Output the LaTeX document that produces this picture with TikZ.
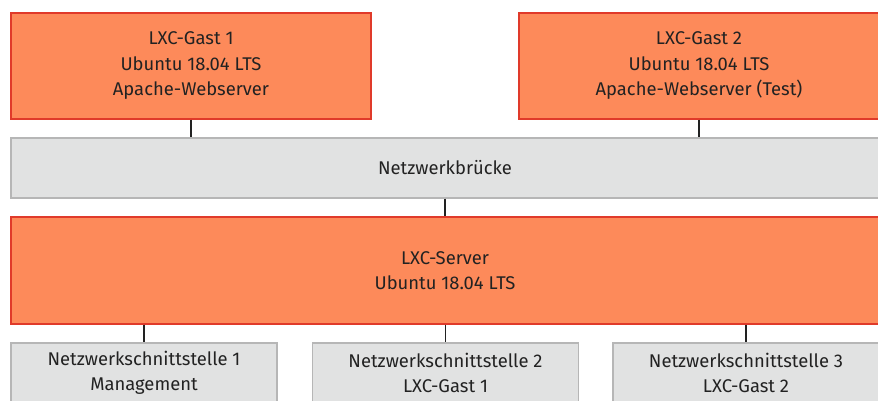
\documentclass[tikz,border=0pt]{standalone}
\usepackage{fontspec}
\setmainfont{Fira Sans}
\usepackage{tikz}

\definecolor{gastorange}{RGB}{253,138,90}
\definecolor{gastrot}{RGB}{224,58,42}
\definecolor{netzgrau}{RGB}{225,226,226}
\definecolor{randgrau}{RGB}{182,182,182}
\definecolor{schrift}{RGB}{34,34,34}

\tikzset{
  box/.style={rectangle, inner sep=0pt, align=center, text=schrift,
    font=\fontsize{18.4}{25.5}\selectfont, line width=1.2pt},
  gast/.style={box, draw=gastrot, fill=gastorange},
  netz/.style={box, draw=randgrau, fill=netzgrau},
  verbinder/.style={draw=schrift, line width=1.3pt}
}

\begin{document}
\begin{tikzpicture}[x=1pt, y=-1pt]
\useasboundingbox (0,0) rectangle (878,401);
\clip (0,0) rectangle (878,401);

% Gaeste
\node[gast, minimum width=360pt, minimum height=106pt] (gast1) at (191,66)
  {LXC-Gast 1\\Ubuntu 18.04 LTS\\Apache-Webserver};
\node[gast, minimum width=360pt, minimum height=106pt] (gast2) at (699,66)
  {LXC-Gast 2\\Ubuntu 18.04 LTS\\Apache-Webserver (Test)};

% Bruecke
\node[netz, minimum width=868pt, minimum height=60pt] (bruecke) at (445,168)
  {Netzwerkbrücke};

% Server
\node[gast, minimum width=868pt, minimum height=107pt] (server) at (445,270.5)
  {LXC-Server\\Ubuntu 18.04 LTS};

% Schnittstellen
\node[netz, minimum width=266pt, minimum height=60pt] (nic1) at (144,373)
  {Netzwerkschnittstelle 1\\Management};
\node[netz, minimum width=266pt, minimum height=60pt] (nic2) at (445.5,373)
  {Netzwerkschnittstelle 2\\LXC-Gast 1};
\node[netz, minimum width=266pt, minimum height=60pt] (nic3) at (746,373)
  {Netzwerkschnittstelle 3\\LXC-Gast 2};

% Verbindungen
\draw[verbinder] (gast1.south) -- (gast1.south |- bruecke.north);
\draw[verbinder] (gast2.south) -- (gast2.south |- bruecke.north);
\draw[verbinder] (bruecke.south) -- (server.north);
\draw[verbinder] (nic1.north |- server.south) -- (nic1.north);
\draw[verbinder] (nic2.north |- server.south) -- (nic2.north);
\draw[verbinder] (nic3.north |- server.south) -- (nic3.north);

\end{tikzpicture}
\end{document}
